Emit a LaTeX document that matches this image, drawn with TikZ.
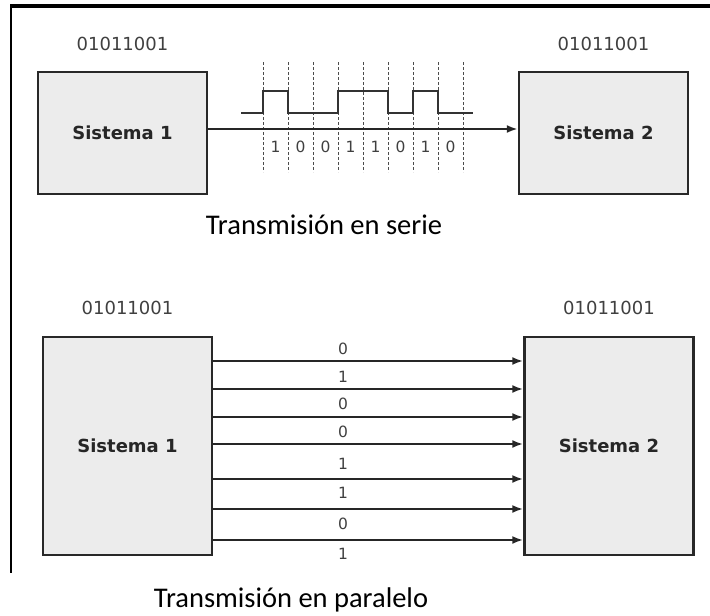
\documentclass[tikz,border=0pt]{standalone}
\usepackage{fontspec}
\setmainfont{Carlito}
\newfontfamily\djv{DejaVu Sans}
\usetikzlibrary{arrows.meta, positioning}
\definecolor{cajagris}{RGB}{236,236,236}
\definecolor{bordegris}{RGB}{40,40,40}

\begin{document}
\begin{tikzpicture}[
  x=1pt, y=-1pt,
  sistema/.style={draw=bordegris, fill=cajagris, line width=2.4pt, minimum width=169pt,
    inner sep=0pt, text=black!85, font=\djv\bfseries\fontsize{18}{20}\selectfont},
  binario/.style={inner sep=0pt, text=black!75, font=\djv\fontsize{18}{20}\selectfont},
  bitlbl/.style={inner sep=0pt, text=black!75, font=\djv\fontsize{15.5}{17}\selectfont},
  flecha/.style={-{Latex[length=11pt,width=8pt]}, line width=2.2pt, black!85},
  rejilla/.style={densely dashed, line width=0.9pt, black!70},
  senal/.style={line width=2.4pt, black!80},
  titulo/.style={anchor=base, font=\fontsize{28.5}{32}\selectfont}
]
  \useasboundingbox (0,0) rectangle (710,616);

  % Frame
  \draw[line width=4pt] (10,6) -- (710,6);
  \draw[line width=2pt] (11,4) -- (11,573);

  % Serial transmission
  \node[sistema, minimum height=122pt] (s1top) at (122.5,133) {Sistema 1};
  \node[sistema, minimum height=122pt] (s2top) at (603.5,133) {Sistema 2};
  \node[binario, above=20pt of s1top] (b1top) {01011001};
  \node[binario, above=20pt of s2top] (b2top) {01011001};

  % Bit slots and signal
  \foreach \i in {0,...,8} {
    \draw[rejilla] ({263+25*\i},62) -- ({263+25*\i},172);
  }
  \draw[senal] (241,113) -- (263,113) -- (263,91) -- (288,91) -- (288,113)
    -- (338,113) -- (338,91) -- (388,91) -- (388,113) -- (413,113)
    -- (413,91) -- (438,91) -- (438,113) -- (473,113);
  \foreach \b [count=\k from 0] in {1,0,0,1,1,0,1,0} {
    \node[bitlbl] (bit\k) at ({275.5+25*\k},147) {\b};
  }
  \draw[flecha] ([yshift=4pt]s1top.east) -- ([yshift=4pt]s2top.west);
  \node[titulo] (tserie) at (324,234) {Transmisión en serie};

  % Parallel transmission
  \node[sistema, minimum height=218pt] (s1bot) at (127.5,446) {Sistema 1};
  \node[sistema, minimum height=218pt] (s2bot) at (609,446) {Sistema 2};
  \node[binario, above=21pt of s1bot] (b1bot) {01011001};
  \node[binario, above=21pt of s2bot] (b2bot) {01011001};

  \foreach \y in {361,389,417,444,479,509,540} {
    \draw[flecha] (s1bot.east |- 0,\y) -- (s2bot.west |- 0,\y);
  }
  \foreach \b/\y [count=\k] in {0/349,1/377,0/404,0/432,1/464,1/493,0/524,1/554} {
    \node[bitlbl] (lin\k) at (343,\y) {\b};
  }
  \node[titulo] (tparalelo) at (291,607) {Transmisión en paralelo};
\end{tikzpicture}
\end{document}
